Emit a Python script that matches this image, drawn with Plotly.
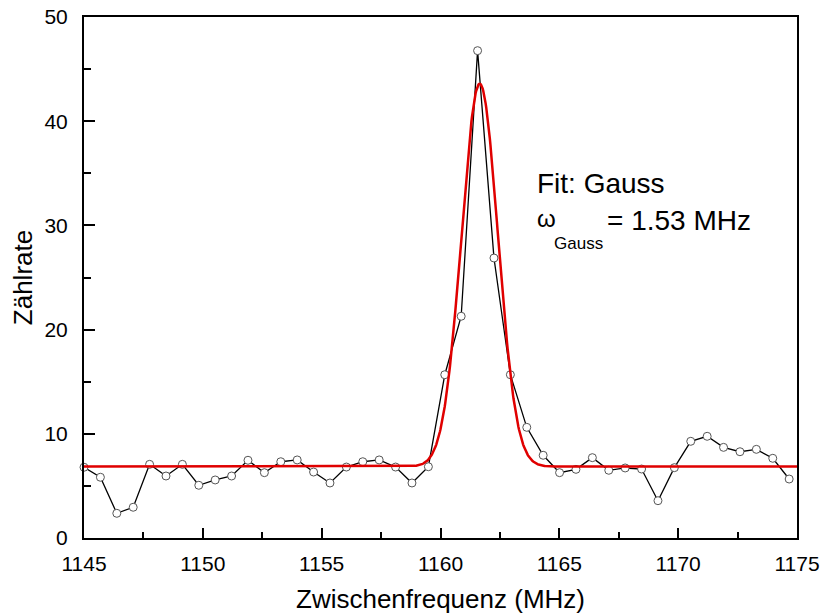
import numpy as np
import plotly.graph_objects as go

# Measured data (Zwischenfrequenz in MHz, Zählrate)
freq = [1145.00, 1145.69, 1146.38, 1147.07, 1147.76, 1148.45, 1149.14, 1149.83,
        1150.52, 1151.21, 1151.90, 1152.59, 1153.28, 1153.97, 1154.66, 1155.35,
        1156.04, 1156.73, 1157.42, 1158.11, 1158.80, 1159.49, 1160.18, 1160.87,
        1161.56, 1162.25, 1162.94, 1163.63, 1164.32, 1165.01, 1165.70, 1166.39,
        1167.08, 1167.77, 1168.46, 1169.15, 1169.84, 1170.53, 1171.22, 1171.91,
        1172.60, 1173.29, 1173.98, 1174.67]
rate = [6.79, 5.83, 2.37, 2.95, 7.07, 5.95, 7.07, 5.06,
        5.57, 5.95, 7.46, 6.27, 7.32, 7.49, 6.33, 5.28,
        6.81, 7.32, 7.49, 6.81, 5.28, 6.84, 15.67, 21.28,
        46.77, 26.87, 15.67, 10.62, 7.94, 6.27, 6.59, 7.71,
        6.50, 6.72, 6.62, 3.58, 6.75, 9.28, 9.76, 8.70,
        8.28, 8.51, 7.65, 5.66]

# Gauss fit parameters (Origin form: y0 + A*exp(-2(x-xc)^2/w^2))
fit_y0 = 6.85
fit_height = 36.75
fit_xc = 1161.65
fit_w = 1.53

x_ticks = [1145, 1150, 1155, 1160, 1165, 1170, 1175]
y_ticks = [0, 10, 20, 30, 40, 50]

fit_x = np.linspace(1145, 1175, 1201)
fit_curve = fit_y0 + fit_height * np.exp(-2 * (fit_x - fit_xc) ** 2 / fit_w ** 2)

FONT = "Liberation Sans, Arial, sans-serif"

fig = go.Figure()
fig.add_trace(go.Scatter(
    x=freq, y=rate, mode="lines+markers",
    line=dict(color="black", width=1.3),
    marker=dict(symbol="circle", size=8, color="white",
                line=dict(color="#555555", width=1)),
    cliponaxis=False, showlegend=False))
fig.add_trace(go.Scatter(
    x=fit_x, y=fit_curve, mode="lines",
    line=dict(color="#e00000", width=2.5),
    showlegend=False))

axis_common = dict(
    showgrid=False, zeroline=False, showline=True, linecolor="black",
    linewidth=2, mirror=True, ticks="inside", tickcolor="black",
    tickwidth=1.5, tickfont=dict(family=FONT, size=21, color="black"),
    automargin=False,
)
fig.update_xaxes(range=[1145, 1175], tickvals=x_ticks, ticklen=10,
                 minor=dict(ticks="inside", dtick=2.5, tick0=1145, ticklen=6,
                            tickwidth=1.5, tickcolor="black", showgrid=False),
                 ticklabelstandoff=6,
                 title=dict(text="Zwischenfrequenz (MHz)",
                            font=dict(family=FONT, size=26, color="black"),
                            standoff=16),
                 **axis_common)
fig.update_yaxes(range=[0, 50], tickvals=y_ticks, ticklen=11,
                 minor=dict(ticks="inside", dtick=5, tick0=0, ticklen=7,
                            tickwidth=1.5, tickcolor="black", showgrid=False),
                 ticklabelstandoff=10,
                 title=dict(text="Zählrate",
                            font=dict(family=FONT, size=26, color="black"),
                            standoff=4),
                 **axis_common)

# annotation positions in paper coordinates of the plot area
fig.add_annotation(xref="paper", yref="paper", x=0.632, y=0.680,
                   xanchor="left", yanchor="middle", showarrow=False,
                   text="Fit: Gauss",
                   font=dict(family=FONT, size=28, color="black"))
fig.add_annotation(xref="paper", yref="paper", x=0.632, y=0.613,
                   xanchor="left", yanchor="middle", showarrow=False,
                   text="ω",
                   font=dict(family=FONT, size=24, color="black"))
fig.add_annotation(xref="paper", yref="paper", x=0.656, y=0.566,
                   xanchor="left", yanchor="middle", showarrow=False,
                   text="Gauss",
                   font=dict(family=FONT, size=17, color="black"))
fig.add_annotation(xref="paper", yref="paper", x=0.731, y=0.61,
                   xanchor="left", yanchor="middle", showarrow=False,
                   text="= 1.53 MHz",
                   font=dict(family=FONT, size=28, color="black"))

fig.update_layout(
    width=821, height=614,
    margin=dict(l=84, r=24, t=17, b=76),
    paper_bgcolor="white", plot_bgcolor="white",
    font=dict(family=FONT, color="black"),
)

fig.write_html("out.html", config={"displayModeBar": False},
               post_script="document.body.style.margin='0';document.body.style.overflow='hidden';")
